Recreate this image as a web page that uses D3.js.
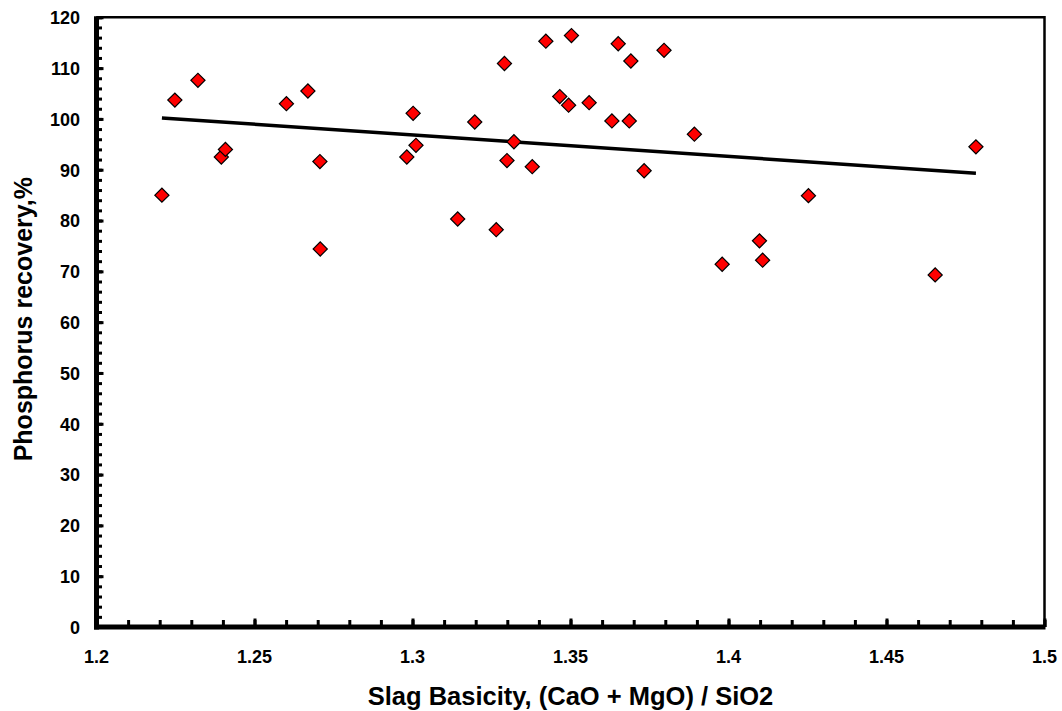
<!DOCTYPE html>
<html>
<head>
<meta charset="utf-8">
<script src="https://cdn.jsdelivr.net/npm/d3@7"></script>
<style>
  body { margin: 0; background: #fff; }
  svg { display: block; font-family: Arial, "Liberation Sans", sans-serif; font-weight: bold; }
</style>
</head>
<body>
<div id="chart"></div>
<script>
// slag basicity (x) and phosphorus recovery % (y)
let basicity = [1.2207,1.2248,1.2321,1.2395,1.2408,1.2601,1.2669,1.2707,1.2708,1.2982,
                1.3002,1.3011,1.3143,1.3197,1.3265,1.3291,1.3299,1.3321,1.3379,1.3422,
                1.3466,1.3494,1.3503,1.3559,1.3631,1.3651,1.3686,1.3691,1.3733,1.3796,
                1.3892,1.3980,1.4098,1.4108,1.4253,1.4654,1.4783];
let recovery = [85.0,103.7,107.6,92.5,94.0,103.0,105.5,91.6,74.4,92.5,
                101.1,94.8,80.3,99.4,78.2,110.9,91.8,95.5,90.6,115.3,
                104.4,102.7,116.4,103.2,99.6,114.8,99.6,111.4,89.8,113.5,
                97.0,71.4,76.0,72.2,84.9,69.3,94.5];
// linear trend line end points
let trendX = [1.2207, 1.4783];
let trendY = [100.2, 89.3];

let xTicks = [1.2,1.25,1.3,1.35,1.4,1.45,1.5];
let yTicks = [0,10,20,30,40,50,60,70,80,90,100,110,120];

let width = 1062, height = 711;
let mLeft = 96.5, mRight = 1044.5, mTop = 17.3, mBottom = 627;

let svg = d3.select("#chart").append("svg")
    .attr("width", width)
    .attr("height", height);

let x = d3.scaleLinear().domain([1.2, 1.5]).range([mLeft, mRight]);
let y = d3.scaleLinear().domain([0, 120]).range([mBottom, mTop]);

// frame: thin top/right lines
svg.append("path")
    .attr("d", `M${mLeft},${mTop}H${mRight}V${mBottom}`)
    .attr("fill", "none")
    .attr("stroke", "#000")
    .attr("stroke-width", 2.5);

// minor and major ticks, pointing inward
let xMinor = d3.range(1.2, 1.5001, 0.01);
let yMinor = d3.range(0, 120.001, 2);

svg.append("g")
    .attr("transform", `translate(0,${mBottom})`)
    .call(d3.axisBottom(x).tickValues(xMinor).tickSize(-7).tickFormat(""))
    .call(g => g.select(".domain").remove())
    .call(g => g.selectAll(".tick line").attr("stroke-width", 3));
svg.append("g")
    .attr("transform", `translate(0,${mBottom})`)
    .call(d3.axisBottom(x).tickValues(xTicks).tickSize(-8.5).tickFormat(""))
    .call(g => g.select(".domain").remove())
    .call(g => g.selectAll(".tick line").attr("stroke-width", 3));

svg.append("g")
    .attr("transform", `translate(${mLeft},0)`)
    .call(d3.axisLeft(y).tickValues(yMinor).tickSize(-5.5).tickFormat(""))
    .call(g => g.select(".domain").remove())
    .call(g => g.selectAll(".tick line").attr("stroke-width", 3));
svg.append("g")
    .attr("transform", `translate(${mLeft},0)`)
    .call(d3.axisLeft(y).tickValues(yTicks).tickSize(-7).tickFormat(""))
    .call(g => g.select(".domain").remove())
    .call(g => g.selectAll(".tick line").attr("stroke-width", 3));

// thick axis lines
svg.append("line")
    .attr("x1", mLeft).attr("x2", mLeft)
    .attr("y1", mTop - 1).attr("y2", mBottom + 2.5)
    .attr("stroke", "#000").attr("stroke-width", 5);
svg.append("line")
    .attr("x1", mLeft - 2.5).attr("x2", mRight + 1)
    .attr("y1", mBottom).attr("y2", mBottom)
    .attr("stroke", "#000").attr("stroke-width", 5);

// tick labels
svg.append("g")
    .selectAll("text")
    .data(xTicks)
    .join("text")
        .attr("x", d => x(d))
        .attr("y", 663)
        .attr("text-anchor", "middle")
        .style("font-size", "18px")
        .text(d => d);

svg.append("g")
    .selectAll("text")
    .data(yTicks)
    .join("text")
        .attr("x", 80)
        .attr("y", d => y(d))
        .attr("dy", "0.38em")
        .attr("text-anchor", "end")
        .style("font-size", "18px")
        .text(d => d);

// trend line
svg.append("path")
    .datum(d3.zip(trendX, trendY))
    .attr("fill", "none")
    .attr("stroke", "#000")
    .attr("stroke-width", 3.5)
    .attr("d", d3.line().x(d => x(d[0])).y(d => y(d[1])));

// points
let diamond = d3.symbol().type(d3.symbolSquare).size(100);
svg.append("g")
    .selectAll("path")
    .data(d3.zip(basicity, recovery))
    .join("path")
        .attr("transform", d => `translate(${x(d[0])},${y(d[1])}) rotate(45)`)
        .attr("d", diamond)
        .attr("fill", "#ff0000")
        .attr("stroke", "#000")
        .attr("stroke-width", 1.2);

// axis titles
svg.append("text")
    .attr("x", (mLeft + mRight) / 2)
    .attr("y", 705)
    .attr("text-anchor", "middle")
    .style("font-size", "25.5px")
    .text("Slag Basicity, (CaO + MgO) / SiO2");

svg.append("text")
    .attr("transform", `translate(32,${(mTop + mBottom) / 2 - 3}) rotate(-90)`)
    .attr("text-anchor", "middle")
    .style("font-size", "25px")
    .text("Phosphorus recovery,%");
</script>
</body>
</html>
